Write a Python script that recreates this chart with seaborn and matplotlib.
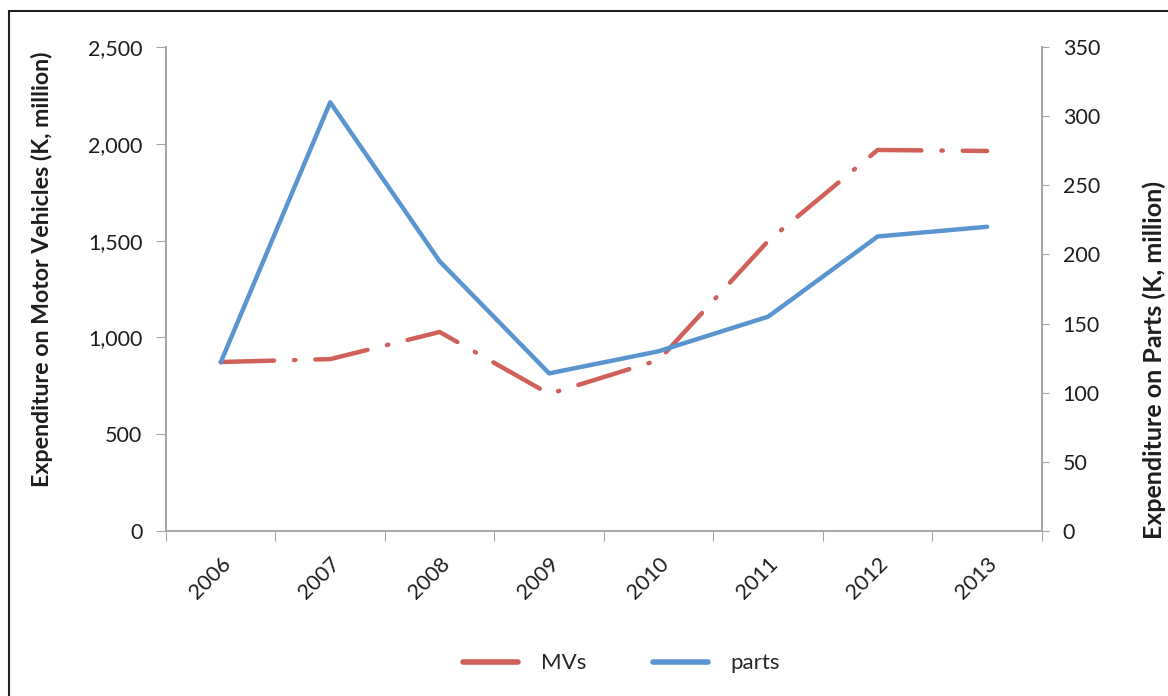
import pandas as pd
import numpy as np
import seaborn as sns
import matplotlib.pyplot as plt
from matplotlib.patches import Rectangle
from matplotlib.lines import Line2D
from matplotlib.ticker import FuncFormatter, FixedLocator

# data
years = ["2006", "2007", "2008", "2009", "2010", "2011", "2012", "2013"]
mvs = [873, 888, 1028, 708, 883, 1498, 1968, 1963]        # K million, left axis
parts = [122, 310, 195, 114, 130, 155, 213, 220]          # K million, right axis

df = pd.DataFrame({"year": years, "MVs": mvs, "parts": parts})

sns.set_style("white")
plt.rcParams['font.family'] = ['Lato', 'DejaVu Sans']

red = "#D0605A"
blue = "#5B95D0"
grey = "#A6A6A6"
txt = "#1E1E1E"

fig = plt.figure(figsize=(11.68, 6.96), dpi=100)
ax = fig.add_axes([0.1421, 0.237, 0.892 - 0.1421, 0.9325 - 0.237])
ax2 = ax.twinx()

sns.lineplot(data=df, x="year", y="MVs", ax=ax, color=red, linewidth=3.2,
             legend=False)
ax.lines[0].set_dashes([12, 4.5, 0.3, 4.5])
ax.lines[0].set_dash_capstyle("round")
sns.lineplot(data=df, x="year", y="parts", ax=ax2, color=blue, linewidth=3.2,
             legend=False)
ax2.lines[0].set_solid_capstyle("round")

ax.set_xlim(-0.5, len(years) - 0.5)
ax.set_ylim(0, 2500)
ax2.set_ylim(0, 350)
ax.set_yticks(np.arange(0, 2501, 500))
ax2.set_yticks(np.arange(0, 351, 50))
ax.yaxis.set_major_formatter(FuncFormatter(lambda v, p: f"{int(v):,}"))

# category boundaries as tick marks, labels centred between them
ax.xaxis.set_major_locator(FixedLocator(np.arange(-0.5, len(years), 1.0)))
ax.set_xticklabels([])
ax.xaxis.set_minor_locator(FixedLocator(np.arange(len(years))))
ax.set_xticklabels(years, minor=True, rotation=45, ha="right", rotation_mode="anchor")
ax.tick_params(axis="x", which="major", length=7, color=grey, direction="out", bottom=True)
ax.tick_params(axis="x", which="minor", length=0, pad=16, labelsize=15.5, labelcolor=txt)
ax.tick_params(axis="y", length=7, color=grey, direction="out", left=True, labelsize=15.5,
               labelcolor=txt, pad=10)
ax2.tick_params(axis="y", length=5, color=grey, direction="out", right=True, labelsize=15.5,
                labelcolor=txt, pad=10)

ax.set_xlabel("")
ax.set_ylabel("Expenditure on Motor Vehicles (K, million)", fontsize=16.7, fontweight="bold",
              color=txt, va="center")
ax2.set_ylabel("Expenditure on Parts (K, million)", fontsize=18, fontweight="bold",
               color=txt, va="center")
ax.yaxis.set_label_coords(-0.1416, 0.541)
ax2.yaxis.set_label_coords(1.128, 0.353)

for a in (ax, ax2):
    for side in ("left", "right", "bottom"):
        a.spines[side].set_visible(True)
        a.spines[side].set_color(grey)
        a.spines[side].set_linewidth(1.2)
    a.spines["top"].set_visible(False)

# legend samples drawn solid, as in the reference
handles = [Line2D([], [], color=red, linewidth=4, solid_capstyle="round"),
           Line2D([], [], color=blue, linewidth=4, solid_capstyle="round")]
fig.legend(handles, ["MVs", "parts"], loc="center", bbox_to_anchor=(0.532, 0.047), ncol=2,
           frameon=False, fontsize=16, handlelength=2.5, columnspacing=3, handletextpad=1.0)

# thin frame round the whole chart
fig.patches.append(Rectangle((9 / 1168, -0.01), 1.02, 1 - 11 / 696 + 0.01,
                             transform=fig.transFigure, fill=False,
                             edgecolor="#222222", linewidth=1.5))

fig.savefig("out.png", dpi=100)
